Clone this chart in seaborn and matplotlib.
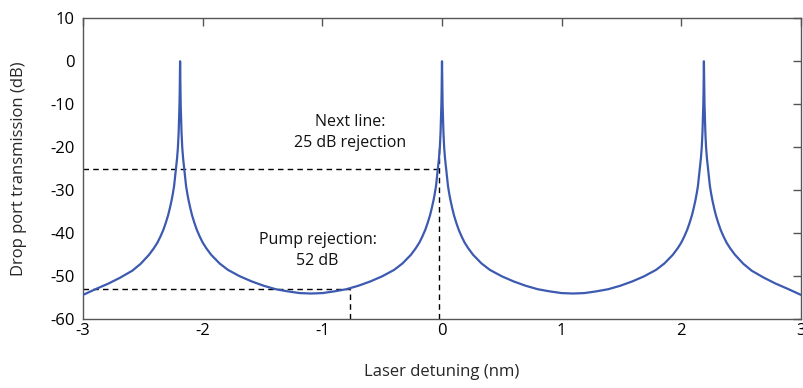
import numpy as np
import pandas as pd
import matplotlib
matplotlib.use("Agg")
import matplotlib.pyplot as plt
import seaborn as sns

# --- data (x in nm, transmission in dB) ---
seg_a_x = [-3.00, -2.89, -2.79, -2.69, -2.59, -2.52, -2.45, -2.41, -2.38, -2.355,
           -2.33, -2.31, -2.29, -2.275, -2.26, -2.25, -2.24, -2.225, -2.215, -2.208,
           -2.202, -2.198, -2.195, -2.193, -2.1915, -2.19]
seg_a_db = [-54.3, -52.9, -51.7, -50.3, -48.7, -47.1, -45.0, -43.5, -42.2, -40.8,
            -39.2, -37.6, -35.8, -34.1, -32.2, -30.7, -29.0, -25.2, -22.5, -20.0,
            -16.5, -13.0, -10.0, -7.0, -3.0, 0.0]

seg_b_x = [-2.1885, -2.187, -2.185, -2.182, -2.178, -2.172, -2.165, -2.155, -2.14, -2.13,
           -2.12, -2.105, -2.09, -2.07, -2.05, -2.025, -2.00, -1.97, -1.93, -1.86,
           -1.79, -1.69, -1.59, -1.49, -1.39, -1.29, -1.19, -1.095, -1.00, -0.90,
           -0.80, -0.70, -0.60, -0.50, -0.40, -0.33, -0.26, -0.22, -0.19, -0.165,
           -0.14, -0.12, -0.10, -0.085, -0.07, -0.06, -0.05, -0.035, -0.025, -0.018,
           -0.012, -0.008, -0.005, -0.003, -0.0015, 0.0]
seg_b_db = [-3.0, -7.0, -10.0, -13.0, -16.5, -20.0, -22.5, -25.2, -29.0, -30.7,
            -32.2, -34.1, -35.8, -37.6, -39.2, -40.8, -42.2, -43.5, -45.0, -47.0,
            -48.5, -50.0, -51.2, -52.2, -53.0, -53.5, -53.9, -54.0, -53.9, -53.5,
            -53.0, -52.2, -51.2, -50.0, -48.5, -47.0, -45.0, -43.5, -42.2, -40.8,
            -39.2, -37.6, -35.8, -34.1, -32.2, -30.7, -29.0, -25.2, -22.5, -20.0,
            -16.5, -13.0, -10.0, -7.0, -3.0, 0.0]

seg_c_x = [0.0015, 0.003, 0.005, 0.008, 0.012, 0.018, 0.025, 0.035, 0.05, 0.06,
           0.07, 0.085, 0.10, 0.12, 0.14, 0.165, 0.19, 0.22, 0.26, 0.33,
           0.40, 0.50, 0.60, 0.70, 0.80, 0.90, 1.00, 1.095, 1.19, 1.29,
           1.39, 1.49, 1.59, 1.69, 1.79, 1.86, 1.93, 1.97, 2.00, 2.025,
           2.05, 2.07, 2.09, 2.105, 2.12, 2.13, 2.14, 2.155, 2.165, 2.172,
           2.178, 2.182, 2.185, 2.187, 2.1885, 2.19]
seg_c_db = [-3.0, -7.0, -10.0, -13.0, -16.5, -20.0, -22.5, -25.2, -29.0, -30.7,
            -32.2, -34.1, -35.8, -37.6, -39.2, -40.8, -42.2, -43.5, -45.0, -47.0,
            -48.5, -50.0, -51.2, -52.2, -53.0, -53.5, -53.9, -54.0, -53.9, -53.5,
            -53.0, -52.2, -51.2, -50.0, -48.5, -47.0, -45.0, -43.5, -42.2, -40.8,
            -39.2, -37.6, -35.8, -34.1, -32.2, -30.7, -29.0, -25.2, -22.5, -20.0,
            -16.5, -13.0, -10.0, -7.0, -3.0, 0.0]

seg_d_x = [2.1915, 2.193, 2.195, 2.198, 2.202, 2.208, 2.215, 2.225, 2.24, 2.25,
           2.26, 2.275, 2.29, 2.31, 2.33, 2.355, 2.38, 2.41, 2.45, 2.52,
           2.59, 2.69, 2.79, 2.89, 3.00]
seg_d_db = [-3.0, -7.0, -10.0, -13.0, -16.5, -20.0, -22.5, -25.2, -29.0, -30.7,
            -32.2, -34.1, -35.8, -37.6, -39.2, -40.8, -42.2, -43.5, -45.0, -47.1,
            -48.7, -50.3, -51.7, -52.9, -54.3]

# guide lines
next_line_db = -25
next_line_end = -0.033
next_line_x = -0.027
next_line_top = -20
pump_db = -53
pump_x = -0.77

x_ticks = [-3, -2, -1, 0, 1, 2, 3]
y_ticks = [-60, -50, -40, -30, -20, -10, 0, 10]

df = pd.DataFrame({
    "detuning": seg_a_x + seg_b_x + seg_c_x + seg_d_x,
    "db": seg_a_db + seg_b_db + seg_c_db + seg_d_db,
})

sns.set_style("white")
plt.rcParams['font.family'] = ['Open Sans', 'DejaVu Sans']

fig = plt.figure(figsize=(8.04, 3.88), dpi=100)
ax = fig.add_axes([0.1035, 0.177, 0.8925, 0.776])

sns.lineplot(data=df, x="detuning", y="db", ax=ax, color="#3c5ab0",
             linewidth=1.6, sort=False, estimator=None, zorder=3)

dash = dict(color="black", linestyle=(0, (4, 3)), linewidth=1.0, zorder=2)
ax.plot([-3, next_line_end], [next_line_db, next_line_db], **dash)
ax.plot([next_line_x, next_line_x], [-60, next_line_top], **dash)
ax.plot([-3, pump_x], [pump_db, pump_db], **dash)
ax.plot([pump_x, pump_x], [-60, pump_db], **dash)

ax.text(-0.77, -16.6, "Next line:\n25 dB rejection", ha="center", va="center",
        fontsize=11.5, linespacing=1.4, color="#111111")
ax.text(-1.04, -44.0, "Pump rejection:\n52 dB", ha="center", va="center",
        fontsize=11.5, linespacing=1.4, color="#111111")

ax.set_xlim(-3, 3)
ax.set_ylim(-60, 10)
ax.set_xticks(x_ticks)
ax.set_yticks(y_ticks)
ax.set_xticklabels([str(t) for t in x_ticks])
ax.set_yticklabels([str(t) for t in y_ticks])
ax.tick_params(direction="in", length=6, width=1, color="#555555",
               top=True, right=True, labelsize=12, labelcolor="black")
ax.tick_params(axis="x", pad=3)
ax.tick_params(axis="y", pad=6)
for s in ax.spines.values():
    s.set_color("#555555")
    s.set_linewidth(1.0)
    s.set_visible(True)

ax.set_xlabel("Laser detuning (nm)", fontsize=12, labelpad=18)
ax.set_ylabel("Drop port transmission (dB)", fontsize=12, labelpad=17)

fig.savefig("out.png", dpi=100)
